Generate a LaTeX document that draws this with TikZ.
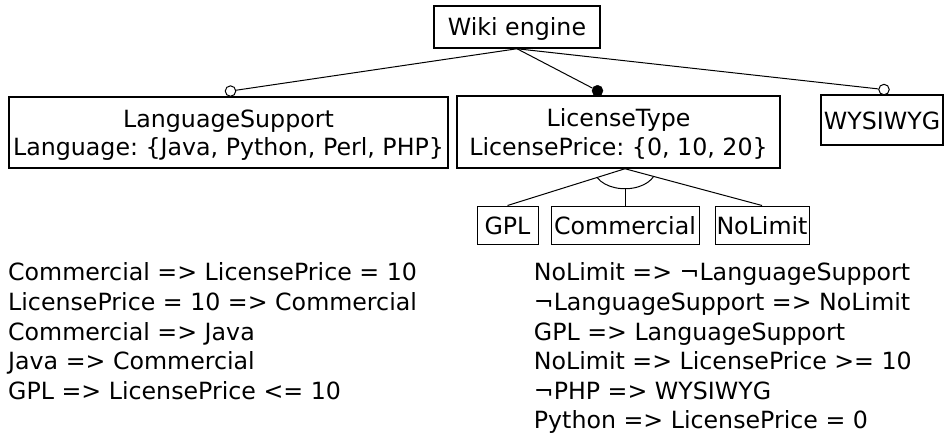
\documentclass[tikz,border=0pt]{standalone}
\usepackage{fontspec}
\setmainfont{DejaVu Sans}
\usetikzlibrary{calc}
\newcommand\topstrut{\rule{0pt}{24pt}}
\newcommand\botstrut{\rule[-6pt]{0pt}{6pt}}
\frenchspacing
\begin{document}
\begin{tikzpicture}[x=1pt,y=1pt,
  every node/.style={font=\fontsize{23.7pt}{28.5pt}\selectfont, inner sep=0pt},
  box/.style={draw, line width=1.5pt, align=center},
  childbox/.style={draw, line width=1pt},
  link/.style={line width=1pt},
  opencirc/.style={circle, draw, line width=1pt, fill=white, minimum size=10.5pt},
  fullcirc/.style={circle, draw, fill=black, minimum size=11pt},
  rules/.style={align=left, anchor=north west, font=\fontsize{23.7pt}{29.6pt}\selectfont}]
\useasboundingbox (0,0) rectangle (945,-436);

% feature boxes
\node[box, minimum width=166pt, minimum height=42pt] (wiki) at (517,-27) {\topstrut Wiki engine\botstrut};
\node[box, minimum width=439pt, minimum height=71pt] (ls) at (228.5,-132.5) {\topstrut LanguageSupport\\Language: \{Java, Python, Perl, PHP\}\botstrut};
\node[box, minimum width=323pt, minimum height=72pt] (lt) at (618.5,-132) {\topstrut LicenseType\\LicensePrice: \{0, 10, 20\}\botstrut};
\node[box, minimum width=122pt, minimum height=50pt] (wys) at (882,-120) {\topstrut WYSIWYG\botstrut};
\node[childbox, minimum width=61pt, minimum height=38pt] (gpl) at (507.5,-225) {\topstrut GPL\botstrut};
\node[childbox, minimum width=148pt, minimum height=38pt] (com) at (625,-225) {\topstrut Commercial\botstrut};
\node[childbox, minimum width=94pt, minimum height=38pt] (nol) at (762,-225) {\topstrut NoLimit\botstrut};

% connectors from root
\node[opencirc] (lsc) at ($(ls.north)+(2,5.2)$) {};
\node[fullcirc] (ltc) at ($(lt.north)+(-21,4.5)$) {};
\node[opencirc] (wysc) at ($(wys.north)+(2,4.7)$) {};
\draw[link] (wiki.south) -- (lsc);
\draw[link] (wiki.south) -- (ltc);
\draw[link] (wiki.south) -- (wysc);

% alternative group
\coordinate (J) at ($(lt.south)+(6.5,0)$);
\coordinate (arcb) at ($(J)+(0,-20)$);
\draw[link] (J) -- (gpl.north);
\draw[link] (J) -- (nol.north);
\draw[link] ($(J)+(206.7:31 and 20)$) arc[start angle=206.7, end angle=336.7, x radius=31, y radius=20];
\draw[link] (arcb) -- (com.north);

% constraints
\node[rules] (cl) at (8,-256.7) {\topstrut Commercial => LicensePrice = 10\\LicensePrice = 10 => Commercial\\Commercial => Java\\Java => Commercial\\GPL => LicensePrice <= 10};
\node[rules] (cr) at (533.7,-256.7) {\topstrut NoLimit => ¬LanguageSupport\\¬LanguageSupport => NoLimit\\GPL => LanguageSupport\\NoLimit => LicensePrice >= 10\\¬PHP => WYSIWYG\\Python => LicensePrice = 0};
\end{tikzpicture}
\end{document}
